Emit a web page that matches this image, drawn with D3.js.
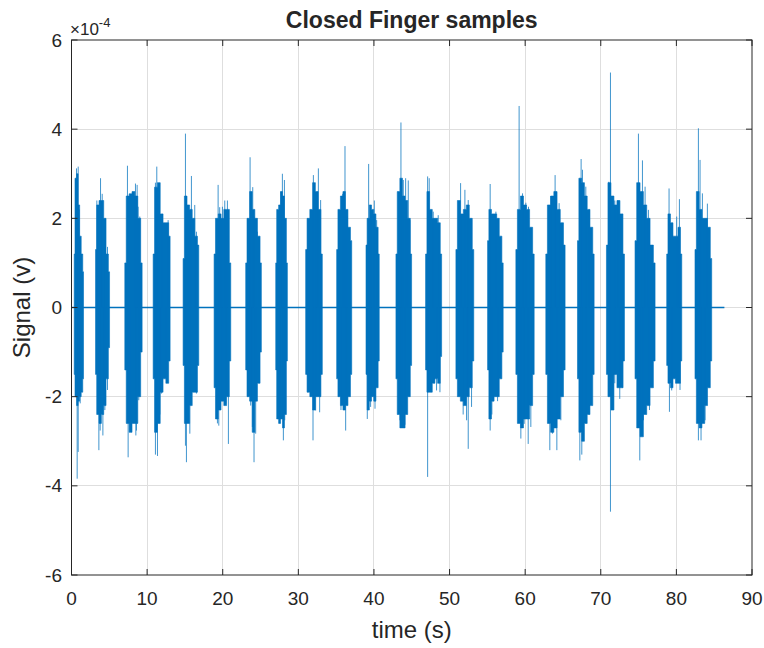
<!DOCTYPE html>
<html><head><meta charset="utf-8">
<script src="https://cdn.jsdelivr.net/npm/d3@7"></script>
<style>
body{margin:0;background:#fff}
text{font-family:"Liberation Sans",Arial,Helvetica,sans-serif;fill:#262626}
</style></head>
<body><svg id="chart" width="764" height="648"></svg>
<script>
// ---- data (time in s, signal in units of 1e-4 V) ----
const xTicks = [0,10,20,30,40,50,60,70,80,90];
const yTicks = [-6,-4,-2,0,2,4,6];
const baselineEnd = 86.35;
const burstStart = [0.36,3.18,7.05,10.80,14.76,18.86,23.04,27.01,30.97,35.07,38.95,42.91,46.83,50.84,55.03,58.77,62.73,66.92,70.75,74.53,78.72,82.46];
const burstEnd   = [1.59,5.03,9.34,13.04,16.83,21.06,25.11,28.55,33.17,37.06,40.70,44.98,48.95,53.20,57.09,61.19,65.28,69.12,73.13,77.18,80.71,84.67];
const burstHi = [
 [1.2,2.9,3.0,2.3,1.6,1.2,0.8],
 [1.3,2.3,2.4,2.4,2.0,1.2,0.8],
 [1.0,2.5,2.55,2.6,2.5,2.0,1.0],
 [1.2,2.7,2.8,2.1,1.9,1.9,1.6],
 [1.1,2.5,2.3,2.2,2.0,1.6,1.4],
 [1.2,2.0,2.1,2.0,2.2,2.2,1.0],
 [1.0,2.0,2.6,2.2,2.0,1.6,1.0],
 [1.0,2.2,2.3,2.6,2.5,2.0,1.0],
 [1.3,2.0,2.2,2.8,2.6,2.2,1.2],
 [1.3,2.2,2.5,2.6,2.2,1.8,1.5],
 [1.4,2.0,2.3,2.2,2.1,1.8,1.2],
 [1.2,2.6,2.9,2.5,2.4,2.0,1.2],
 [1.2,2.6,2.2,2.0,2.0,1.9,1.2],
 [1.3,2.4,2.1,2.2,2.3,2.0,1.3],
 [1.5,2.2,2.1,2.1,2.0,1.6,1.0],
 [1.3,2.2,2.5,2.3,2.2,1.8,1.2],
 [1.2,2.3,2.5,2.6,2.2,1.9,1.4],
 [1.5,2.9,2.8,2.5,2.2,1.8,1.2],
 [1.4,2.8,2.5,2.3,2.4,2.1,1.2],
 [1.5,2.8,2.6,2.3,2.0,1.4,1.0],
 [1.2,2.1,1.9,1.6,1.6,1.8,1.2],
 [1.3,2.6,2.2,2.0,2.0,1.8,1.1]
];
const burstLo = [
 [-1.5,-2.0,-2.2,-2.1,-2.0,-1.9,-1.6],
 [-1.5,-2.4,-2.6,-2.4,-2.2,-1.6,-0.9],
 [-1.4,-2.6,-2.8,-2.6,-2.6,-2.0,-1.0],
 [-1.6,-2.8,-2.6,-1.9,-1.6,-1.7,-1.2],
 [-1.3,-2.6,-2.6,-2.2,-1.9,-1.9,-1.3],
 [-1.8,-2.5,-2.3,-2.1,-2.2,-2.0,-1.2],
 [-1.4,-2.0,-2.1,-2.8,-2.1,-1.7,-1.0],
 [-1.4,-2.5,-2.6,-2.5,-2.7,-2.4,-1.2],
 [-1.5,-1.9,-2.0,-2.3,-2.0,-2.0,-1.5],
 [-1.6,-2.0,-2.2,-2.3,-2.2,-2.0,-1.5],
 [-1.5,-2.3,-2.1,-2.0,-2.1,-1.8,-1.2],
 [-1.6,-2.4,-2.7,-2.7,-2.4,-2.0,-1.3],
 [-1.4,-1.9,-1.9,-1.7,-1.6,-1.7,-1.1],
 [-1.6,-2.0,-2.1,-2.2,-2.0,-1.8,-1.2],
 [-1.4,-2.5,-2.1,-2.0,-2.0,-1.6,-1.0],
 [-1.5,-2.6,-2.7,-2.5,-2.5,-2.2,-1.5],
 [-1.5,-2.6,-2.8,-2.7,-2.5,-2.0,-1.4],
 [-1.6,-2.8,-3.0,-2.6,-2.4,-2.2,-1.5],
 [-1.5,-2.0,-2.3,-1.5,-1.8,-1.8,-1.2],
 [-1.6,-2.7,-2.9,-2.4,-2.2,-1.8,-1.2],
 [-1.3,-1.7,-1.8,-1.6,-1.7,-1.7,-1.2],
 [-1.6,-2.6,-2.7,-2.6,-2.2,-1.8,-1.2]
];
const spikeTime = [
 0.665,0.885,1.02,0.75,0.885,1.15,
 3.84,3.35,4.06,3.62,4.15,4.32,4.76,3.79,4.41,4.76,
 7.40,8.46,8.68,7.49,7.80,8.51,8.81,9.03,8.59,8.90,
 11.28,11.10,11.10,11.37,11.68,12.03,12.78,11.90,12.56,
 15.07,15.86,16.30,15.20,15.07,16.52,15.65,16.52,
 19.39,20.62,19.60,20.75,19.30,19.48,19.96,20.27,19.96,20.40,
 23.62,23.97,24.14,23.70,24.14,24.58,23.92,24.36,
 27.89,27.67,28.02,27.58,28.16,28.20,
 31.99,32.65,31.94,32.82,32.29,32.95,32.29,
 36.17,35.86,36.26,35.64,36.48,36.61,
 39.30,40.05,39.12,40.14,39.56,40.36,39.56,
 43.57,44.19,44.54,43.66,44.10,43.88,44.76,43.44,
 47.10,47.31,47.10,48.73,47.84,48.50,48.28,
 51.46,52.03,52.47,51.80,52.47,52.91,52.25,52.91,
 55.37,55.37,56.35,56.13,55.60,
 59.20,60.09,59.43,60.40,59.65,60.44,59.87,60.75,
 63.96,63.39,63.26,64.19,64.14,64.49,63.61,64.72,
 67.40,67.23,67.49,67.58,68.02,68.46,68.02,
 71.28,71.06,72.29,71.28,72.51,71.85,71.85,72.90,
 74.98,75.51,75.16,76.44,75.86,76.30,74.89,75.64,
 79.03,80.40,79.08,80.48,80.04,79.38,
 82.91,84.10,82.91,83.26,83.13,83.44,83.79
];
const spikeValue = [
 3.12,3.16,2.2,-3.84,-3.24,-2.15,
 2.9,2.4,2.55,-3.2,-2.87,1.81,1.36,-2.76,-2.3,-1.85,
 3.18,2.78,2.75,-3.36,-2.75,-2.87,2.26,2.04,-2.76,-2.08,
 3.16,2.8,-3.3,-3.33,-2.4,1.93,1.96,-1.93,-1.63,
 3.9,2.95,2.3,-3.47,-3.1,1.7,-2.83,-1.93,
 2.75,2.4,2.25,-3.06,-2.6,-2.65,2.26,2.4,-2.08,-2.16,
 3.37,2.7,-3.47,-2.2,2.04,1.7,-2.68,-2.83,
 3.0,2.6,-2.98,-2.5,2.86,-2.53,
 2.97,3.12,-2.98,-2.35,2.56,2.41,-2.31,
 3.62,2.55,-2.76,-2.3,2.04,-1.93,
 3.22,2.4,-2.5,-2.27,2.04,1.96,-2.23,
 4.15,2.9,2.85,-2.7,-2.63,2.86,1.96,-2.53,
 2.94,2.9,-3.8,-1.9,2.15,2.07,-1.86,
 2.79,2.64,-3.17,-2.4,2.41,1.96,-2.53,-2.23,
 2.77,-2.76,-2.1,2.15,-2.4,
 4.52,2.35,-2.94,-3.06,2.56,2.26,-2.61,-2.68,
 2.97,2.5,-3.2,-3.2,2.56,2.34,-2.83,-2.53,
 3.33,-3.43,-3.3,3.09,2.71,2.19,-2.53,
 5.27,2.82,2.4,-4.58,-2.05,-1.7,2.4,-1.8,
 3.9,3.3,-3.43,-2.3,2.71,2.19,-2.68,-2.53,
 2.67,2.43,-2.34,-1.85,2.04,-1.86,
 4.02,2.33,-2.98,-2.98,3.31,2.56,-2.53
];

// ---- layout ----
const L=71.5, R=752, T=40, B=575;
const blue="#0072BD", axisCol="#262626", gridCol="#dedede";
const svg=d3.select("#chart");
svg.append("rect").attr("width",764).attr("height",648).attr("fill","#fff");
const x=d3.scaleLinear().domain([0,90]).range([L,R]);
const y=d3.scaleLinear().domain([-6,6]).range([B,T]);

// grid
const g=svg.append("g");
g.selectAll(".gx").data(xTicks.filter(d=>d>0&&d<90)).enter().append("line")
 .attr("x1",d=>x(d)).attr("x2",d=>x(d)).attr("y1",T).attr("y2",B)
 .attr("stroke",gridCol).attr("stroke-width",1).attr("shape-rendering","crispEdges");
g.selectAll(".gy").data(yTicks.filter(d=>d>-6&&d<6)).enter().append("line")
 .attr("y1",d=>y(d)).attr("y2",d=>y(d)).attr("x1",L).attr("x2",R)
 .attr("stroke",gridCol).attr("stroke-width",1).attr("shape-rendering","crispEdges");

// signal
const plot=svg.append("g");
plot.append("line").attr("x1",x(0)).attr("x2",x(baselineEnd)).attr("y1",y(0)).attr("y2",y(0))
 .attr("stroke",blue).attr("stroke-width",1.3);
const area=d3.area().x(d=>x(d.t)).y0(d=>y(d.lo)).y1(d=>y(d.hi)).curve(d3.curveStep);
burstStart.forEach((t0,i)=>{
  const t1=burstEnd[i], n=burstHi[i].length;
  const pts=burstHi[i].map((h,j)=>({t:t0+(t1-t0)*j/(n-1),hi:h,lo:burstLo[i][j]}));
  plot.append("path").attr("d",area(pts)).attr("fill",blue).attr("stroke",blue)
   .attr("stroke-width",0.6);
});
plot.selectAll(".sp").data(spikeTime.map((t,i)=>({t,v:spikeValue[i]}))).enter().append("line")
 .attr("x1",d=>x(d.t)).attr("x2",d=>x(d.t)).attr("y1",y(0)).attr("y2",d=>y(d.v))
 .attr("stroke",blue).attr("stroke-width",1).attr("stroke-opacity",0.75);

// box & ticks
const ax=svg.append("g");
ax.append("rect").attr("x",L).attr("y",T).attr("width",R-L).attr("height",B-T)
 .attr("fill","none").attr("stroke",axisCol).attr("stroke-width",1);
const tl=6;
xTicks.forEach(d=>{
  ax.append("line").attr("x1",x(d)).attr("x2",x(d)).attr("y1",B).attr("y2",B-tl).attr("stroke",axisCol);
  ax.append("line").attr("x1",x(d)).attr("x2",x(d)).attr("y1",T).attr("y2",T+tl).attr("stroke",axisCol);
  ax.append("text").attr("x",x(d)).attr("y",605).attr("text-anchor","middle")
   .attr("font-size",19).text(d);
});
yTicks.forEach(d=>{
  ax.append("line").attr("x1",L).attr("x2",L+tl).attr("y1",y(d)).attr("y2",y(d)).attr("stroke",axisCol);
  ax.append("line").attr("x1",R).attr("x2",R-tl).attr("y1",y(d)).attr("y2",y(d)).attr("stroke",axisCol);
  ax.append("text").attr("x",62).attr("y",y(d)+6.5).attr("text-anchor","end")
   .attr("font-size",19).text(d);
});

// labels
svg.append("text").attr("x",(L+R)/2).attr("y",28).attr("text-anchor","middle")
 .attr("font-size",23).attr("font-weight","bold").attr("fill","#000").text("Closed Finger samples");
svg.append("text").attr("x",(L+R)/2).attr("y",638).attr("text-anchor","middle")
 .attr("font-size",24).text("time (s)");
svg.append("text").attr("transform",`translate(30,${(T+B)/2}) rotate(-90)`).attr("text-anchor","middle")
 .attr("font-size",24).text("Signal (v)");
const ex=svg.append("text").attr("x",70).attr("y",35).attr("font-size",17);
ex.append("tspan").text("\u00d710");
ex.append("tspan").attr("dy",-8).attr("font-size",13).text("-4");
</script></body></html>
